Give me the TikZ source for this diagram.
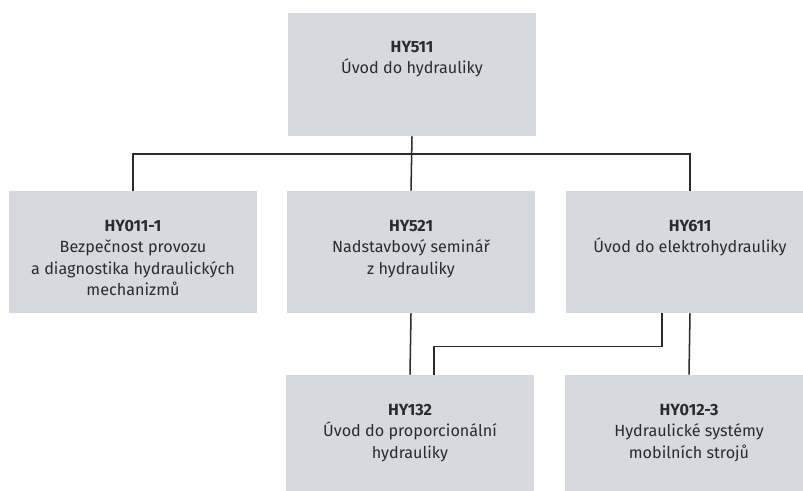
\documentclass[tikz,border=0pt]{standalone}
\usepackage{fontspec}
\setmainfont{Fira Sans}
\usepackage{xcolor}
\usetikzlibrary{calc}

\definecolor{boxgray}{HTML}{D6D9DE}
\definecolor{inkgray}{HTML}{2B2B2B}

\tikzset{
  course/.style={rectangle, fill=boxgray, draw=none, minimum width=6.2cm, minimum height=3.05cm, inner sep=0},
  coursetext/.style={anchor=north, align=center, inner sep=0, text=inkgray, font=\fontsize{11.5}{15.3}\selectfont},
  link/.style={line width=0.38mm, inkgray}
}

\begin{document}
\begin{tikzpicture}[x=0.025cm, y=-0.025cm]
  \useasboundingbox (0, 0) rectangle (803, 491);
  \clip (0, 0) rectangle (803, 491);

  % Top course
  \node[course, minimum height=3.075cm] (hy511) at (412, 74.5) {};
  \node[coursetext] (hy511t) at ($(hy511.north)+(0, 28)$) {\textbf{HY511}\\Úvod do hydrauliky};

  % Second row
  \node[course] (hy011) at (133, 252) {};
  \node[coursetext] (hy011t) at ($(hy011.north)+(0, 29)$)
    {\textbf{HY011-1}\\Bezpečnost provozu\\a diagnostika hydraulických\\mechanizmů};
  \node[course] (hy521) at (411, 252) {};
  \node[coursetext] (hy521t) at ($(hy521.north)+(0, 29)$)
    {\textbf{HY521}\\Nadstavbový seminář\\z hydrauliky};
  \node[course] (hy611) at (690, 252) {};
  \node[coursetext] (hy611t) at ($(hy611.north)+(0, 29)$)
    {\textbf{HY611}\\Úvod do elektrohydrauliky};

  % Third row
  \node[course] (hy132) at (410, 436) {};
  \node[coursetext] (hy132t) at ($(hy132.north)+(0, 29)$)
    {\textbf{HY132}\\Úvod do proporcionální\\hydrauliky};
  \node[course] (hy012) at (689, 436) {};
  \node[coursetext] (hy012t) at ($(hy012.north)+(0, 29)$)
    {\textbf{HY012-3}\\Hydraulické systémy\\mobilních strojů};

  % Bus under the top course
  \coordinate (bus) at (412, 154);
  \draw[link] (hy511.south) -- (hy521.north);
  \draw[link] (hy011.north) |- (bus) -| (hy611.north);

  % Links to the third row
  \draw[link] (hy521.south) -- (hy132.north);
  \draw[link] ([shift={(-28, 0)}]hy611.south) -- ++(0, 33) -| ([shift={(24, 0)}]hy132.north);
  \draw[link] (hy611.south) -- (hy012.north);
\end{tikzpicture}
\end{document}
